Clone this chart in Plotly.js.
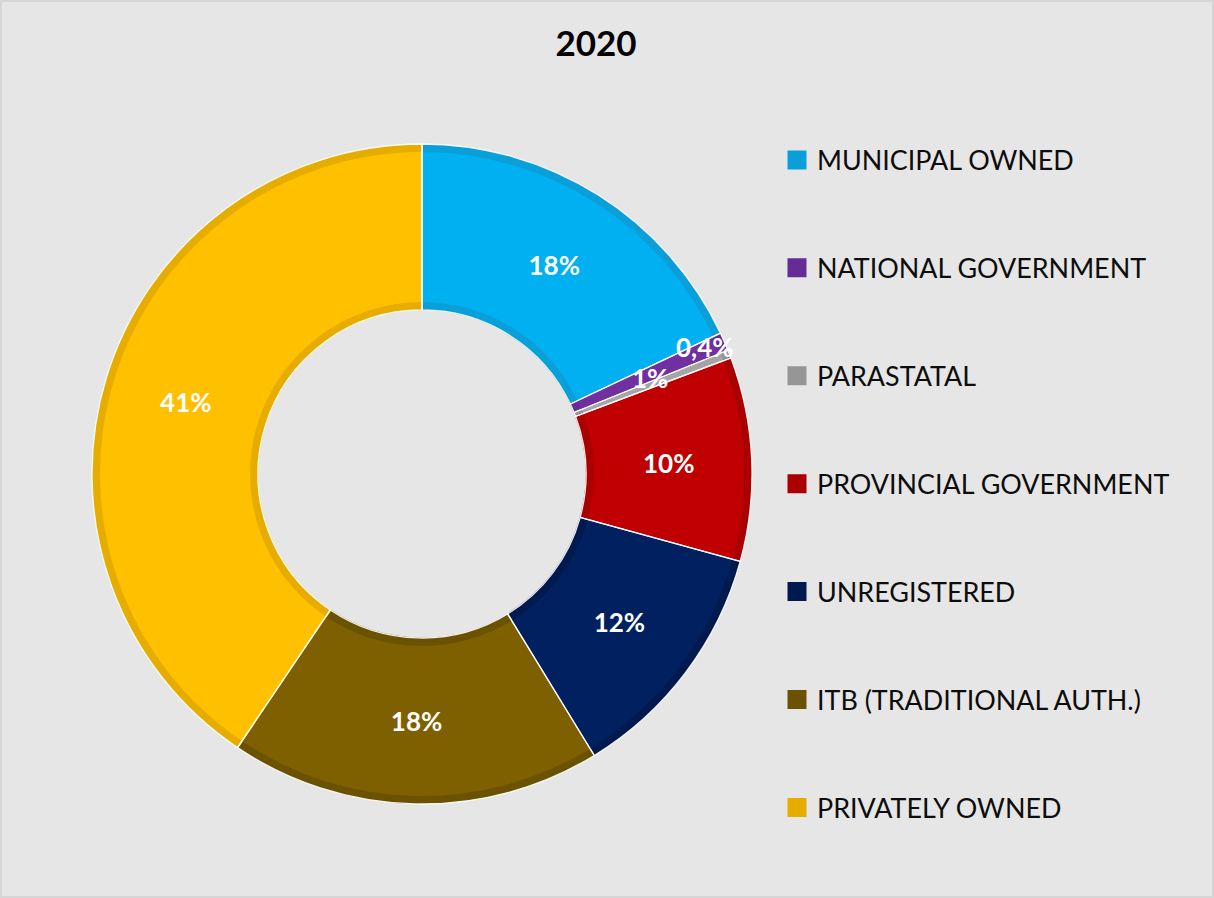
<!DOCTYPE html>
<html>
<head>
<meta charset="utf-8">
<script src="https://cdn.plot.ly/plotly-3.0.1.min.js"></script>
<style>
html,body{margin:0;padding:0;background:#E6E6E6;}
.legend .legendpie{stroke-width:7px !important;}
</style>
</head>
<body>
<div id="chart" style="width:1214px;height:898px;"></div>
<script>
// ---- data ----
const categories = ['MUNICIPAL OWNED', 'NATIONAL GOVERNMENT', 'PARASTATAL', 'PROVINCIAL GOVERNMENT', 'UNREGISTERED', 'ITB (TRADITIONAL AUTH.)', 'PRIVATELY OWNED'];
const shares = [18.0, 0.9, 0.4, 10.0, 12.0, 18.2, 40.6];
const shareLabels = ['18%', '1%', '0,4%', '10%', '12%', '18%', '41%'];
const chartTitle = '2020';

// ---- styles ----
const fillColors = ['#00B0F0', '#7030A0', '#A5A5A5', '#C00000', '#002060', '#7F6000', '#FFC000'];
const edgeColors = ['#0A9FD9', '#652C96', '#969696', '#AA0000', '#00194E', '#6B5200', '#E6AD00'];

const W = 1214, H = 898;
const cx = 422, cyTop = 474;           // donut centre in pixels
function dom(r) {
  const cy = H - cyTop;
  return {x: [(cx - r) / W, (cx + r) / W], y: [(cy - r) / H, (cy + r) / H]};
}
const legendLabels = categories.map(c => '<br>' + c + '<br>');
const FONT = 'Lato, "Open Sans", "Liberation Sans", sans-serif';
const smallSlices = [1, 2];   // labelled by annotations (too thin for inside text)
const smallPos = [[650, 378], [705, 347]];

// outer (darker) ring - also carries the legend
const base = {
  type: 'pie', labels: legendLabels, values: shares, sort: false, direction: 'clockwise',
  domain: dom(329), hole: 0.5,
  marker: {colors: edgeColors, line: {color: edgeColors, width: 2}},
  textinfo: 'none', hoverinfo: 'skip', showlegend: true
};
// inner (lighter) fill, inset
const inner = {
  type: 'pie', labels: legendLabels, values: shares, sort: false, direction: 'clockwise',
  domain: dom(322), hole: 172 / 322,
  marker: {colors: fillColors, line: {width: 0}},
  text: shareLabels.map((t, i) => smallSlices.includes(i) ? '' : t),
  texttemplate: '%{text}', textposition: 'inside', insidetextorientation: 'horizontal',
  textfont: {family: FONT, size: 26, color: '#FFFFFF', weight: 'bold'},
  hovertemplate: '%{customdata}: %{value}<extra></extra>', customdata: categories,
  showlegend: false
};
// thin white separators
const seps = {
  type: 'pie', labels: legendLabels, values: shares, sort: false, direction: 'clockwise',
  domain: dom(330), hole: 164 / 330,
  marker: {colors: fillColors.map(() => 'rgba(0,0,0,0)'), line: {color: 'rgba(255,255,255,0.9)', width: 1.3}},
  textinfo: 'none', hoverinfo: 'skip', showlegend: false
};

const layout = {
  width: W, height: H,
  margin: {l: 0, r: 0, t: 0, b: 0},
  paper_bgcolor: '#E6E6E6', plot_bgcolor: '#E6E6E6',
  title: {text: chartTitle, x: 596 / W, xanchor: 'center', y: 1 - 44 / H, yanchor: 'middle',
          font: {family: FONT, size: 35, color: '#000000', weight: 'bold'}},
  legend: {x: 777 / W, xanchor: 'left', y: 1 - 484 / H, yanchor: 'middle', valign: 'middle',
           font: {family: FONT, size: 26.9, color: '#0D0D0D'}, bgcolor: 'rgba(0,0,0,0)'},
  annotations: smallSlices.map((idx, k) => ({
    text: shareLabels[idx], xref: 'paper', yref: 'paper',
    x: smallPos[k][0] / W, y: 1 - smallPos[k][1] / H,
    xanchor: 'center', yanchor: 'middle', showarrow: false,
    font: {family: FONT, size: 26, color: '#FFFFFF', weight: 'bold'}
  })),
  shapes: [{type: 'rect', xref: 'paper', yref: 'paper', x0: 0, x1: 1, y0: 0, y1: 1,
            line: {color: '#D6D6D6', width: 4}, layer: 'below'}]
};

Plotly.newPlot('chart', [base, inner, seps], layout, {displayModeBar: false});
</script>
</body>
</html>
